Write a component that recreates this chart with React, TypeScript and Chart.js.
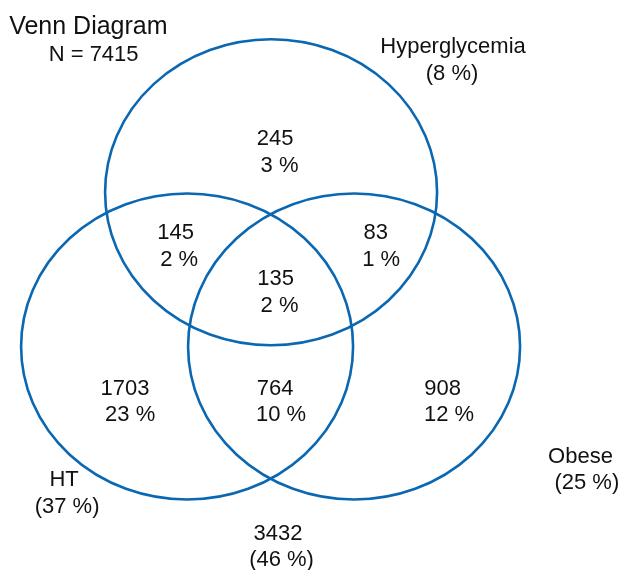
import React, { useEffect, useRef } from "react";
import { Chart, registerables } from "chart.js";

Chart.register(...registerables);

// ---- data ----
const totalN = 7415;
const setNames = ["Hyperglycemia", "HT", "Obese"];
const setPercents = [8, 37, 25];
const regionNames = [
  "Hyperglycemia only",
  "Hyperglycemia & HT",
  "Hyperglycemia & Obese",
  "All three",
  "HT only",
  "HT & Obese",
  "Obese only",
  "None",
];
const regionCounts = [245, 145, 83, 135, 1703, 764, 908, 3432];
const regionPercents = [3, 2, 1, 2, 23, 10, 12, 46];

// ---- layout (data units: circle radius = 1) ----
const setCenters = [
  { x: 0.0, y: 1.008 },
  { x: -0.506, y: 0 },
  { x: 0.5, y: 0 },
];
const setRadius = 1;
// label anchors: [name line, percent line]
const setLabelPos = [
  [{ x: 1.096, y: 1.971 }, { x: 1.09, y: 1.794 }],
  [{ x: -1.247, y: -0.859 }, { x: -1.229, y: -1.036 }],
  [{ x: 1.864, y: -0.709 }, { x: 1.902, y: -0.879 }],
];
const regionLabelPos = [
  [{ x: 0.024, y: 1.369 }, { x: 0.051, y: 1.193 }],
  [{ x: -0.575, y: 0.755 }, { x: -0.554, y: 0.578 }],
  [{ x: 0.63, y: 0.755 }, { x: 0.663, y: 0.578 }],
  [{ x: 0.027, y: 0.454 }, { x: 0.051, y: 0.278 }],
  [{ x: -0.88, y: -0.265 }, { x: -0.849, y: -0.435 }],
  [{ x: 0.024, y: -0.265 }, { x: 0.06, y: -0.435 }],
  [{ x: 1.033, y: -0.265 }, { x: 1.072, y: -0.435 }],
  [{ x: 0.042, y: -1.212 }, { x: 0.063, y: -1.382 }],
];
const titlePos = { x: -1.578, y: 2.101 };
const nPos = { x: -1.069, y: 1.918 };

const FONT = 'Arial, "Liberation Sans", sans-serif';
const CIRCLE_COLOR = "#0a67b2";

const vennPlugin = {
  id: "venn",
  afterDatasetsDraw(chart: any) {
    const { ctx } = chart;
    const xs = chart.scales.x;
    const ys = chart.scales.y;
    ctx.save();
    // circles
    ctx.strokeStyle = CIRCLE_COLOR;
    ctx.lineWidth = 2.6;
    setCenters.forEach((c) => {
      const px = xs.getPixelForValue(c.x);
      const py = ys.getPixelForValue(c.y);
      const rx = Math.abs(xs.getPixelForValue(c.x + setRadius) - px);
      const ry = Math.abs(ys.getPixelForValue(c.y + setRadius) - py);
      ctx.beginPath();
      ctx.ellipse(px, py, rx, ry, 0, 0, Math.PI * 2);
      ctx.stroke();
    });
    // text helper: y anchor is cap-center
    const drawText = (
      text: string,
      p: { x: number; y: number },
      size: number,
      align: CanvasTextAlign = "center"
    ) => {
      ctx.font = `${size}px ${FONT}`;
      ctx.fillStyle = "#111";
      ctx.textAlign = align;
      ctx.textBaseline = "alphabetic";
      ctx.fillText(
        text,
        xs.getPixelForValue(p.x),
        ys.getPixelForValue(p.y) + size * 0.358
      );
    };
    drawText("Venn Diagram", titlePos, 25, "left");
    drawText(`N = ${totalN}`, nPos, 22);
    setNames.forEach((name, i) => {
      drawText(name, setLabelPos[i][0], 22);
      drawText(`(${setPercents[i]} %)`, setLabelPos[i][1], 22);
    });
    regionCounts.forEach((cnt, i) => {
      drawText(String(cnt), regionLabelPos[i][0], 22);
      const pct =
        regionNames[i] === "None"
          ? `(${regionPercents[i]} %)`
          : `${regionPercents[i]} %`;
      drawText(pct, regionLabelPos[i][1], 22);
    });
    ctx.restore();
  },
};

export default function App() {
  const ref = useRef<HTMLCanvasElement>(null);
  useEffect(() => {
    if (!ref.current) return;
    const chart = new Chart(ref.current, {
      type: "scatter",
      data: {
        datasets: [
          {
            label: "Sets",
            data: setCenters.map((c) => ({ x: c.x, y: c.y })),
            pointRadius: 0,
            pointHoverRadius: 0,
          },
        ],
      },
      options: {
        animation: false,
        responsive: false,
        maintainAspectRatio: false,
        events: [],
        layout: { padding: 0 },
        plugins: {
          legend: { display: false },
          title: { display: false },
          tooltip: { enabled: false },
        },
        scales: {
          x: { type: "linear", display: false, min: -1.633, max: 2.114 },
          y: { type: "linear", display: false, min: -1.461, max: 2.265 },
        },
      },
      plugins: [vennPlugin],
    });
    return () => chart.destroy();
  }, []);
  return (
    <div
      style={{
        position: "fixed",
        left: 0,
        top: 0,
        width: 622,
        height: 570,
        background: "#fff",
      }}
    >
      <canvas ref={ref} width={622} height={570} />
    </div>
  );
}
